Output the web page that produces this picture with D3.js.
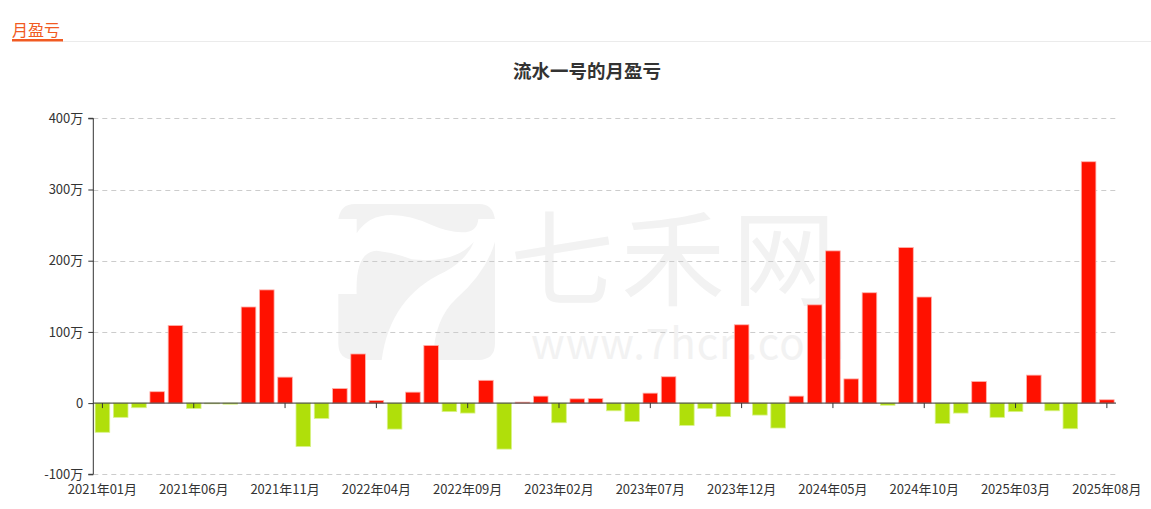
<!DOCTYPE html>
<html><head><meta charset="utf-8">
<script src="https://cdn.jsdelivr.net/npm/d3@7/dist/d3.min.js"></script>
<style>
body{margin:0;background:#fff;font-family:"Noto Sans CJK SC","Noto Sans",sans-serif;}
svg text{font-family:"Noto Sans CJK SC","Noto Sans",sans-serif;}
</style></head>
<body>
<svg id="c" width="1151" height="509"></svg>
<script>
const startYear = 2021, startMonth = 1;
const months = [];
for (let i = 0; i < 56; i++) {
  const y = startYear + Math.floor((startMonth - 1 + i) / 12);
  const m = (startMonth - 1 + i) % 12 + 1;
  months.push(y + "年" + String(m).padStart(2, "0") + "月");
}
// monthly profit/loss in 万
const values = [
  -41, -20, -6.5, 16, 109, -7.5, -1, -1.5, 135, 159,
  36.5, -61, -21.5, 20.5, 69, 3.7, -36.5, 15.4, 81, -12,
  -14, 32, -64.6, 1.4, 9.8, -27.6, 6, 6.5, -10.8, -25.7,
  14, 37, -31.3, -7.5, -19, 110, -16.8, -35, 9.8, 138,
  213.8, 34, 155, -3, 218.5, 149, -28.5, -14, 30.4, -20,
  -12, 39.3, -10.8, -36, 339, 4.7
];
const yTicks = [-100, 0, 100, 200, 300, 400];
const tickEvery = 5;

const svg = d3.select("#c");
const margin = {left: 93.3, right: 1116, top: 118.3, bottom: 474.3};

const x = d3.scaleBand().domain(months).range([margin.left, margin.right]).paddingInner(0.2).paddingOuter(0.1);
const xs = d3.scaleBand().domain(months).range([margin.left, margin.right]);
const y = d3.scaleLinear().domain([-100, 400]).range([margin.bottom, margin.top]);

// header
svg.append("text").attr("x", 12).attr("y", 36).attr("fill", "#f15a22")
  .attr("font-size", 16).text("月盈亏");
svg.append("line").attr("x1", 62).attr("x2", 1151).attr("y1", 41.5).attr("y2", 41.5)
  .attr("stroke", "#ebebeb").attr("stroke-width", 1);
svg.append("rect").attr("x", 12).attr("y", 39).attr("width", 51).attr("height", 2.5).attr("fill", "#f15a22");

// watermark
const wm = svg.append("g").attr("fill", "#f2f2f2");
const logo = wm.append("g").attr("transform", "translate(320,190) scale(0.3333)");
logo.append("path").attr("d", "M55,87 Q62,42 105,42 L478,42 Q518,42 525,87 L475,87 Q472,128 425,127 Q385,127 335,105 Q270,75 215,75 Q145,75 110,130 L110,87 Z");
logo.append("path").attr("d", "M55,312 L110,312 Q105,185 170,182 Q225,188 275,208 Q405,222 462,155 Q440,210 375,245 Q210,320 185,510 L105,510 Q55,510 55,460 Z");
logo.append("path").attr("d", "M525,155 L525,460 Q525,510 475,510 L340,510 Q340,390 410,325 Q500,245 525,155 Z");
wm.append("text").attr("x", 510).attr("y", 298)
  .attr("font-size", 104).attr("font-weight", 400)
  .attr("letter-spacing", 7).text("七禾网");
wm.append("text").attr("x", 531).attr("y", 359).attr("font-size", 42)
  .attr("font-family", "'Open Sans','DejaVu Sans',sans-serif").attr("font-weight", 400)
  .attr("letter-spacing", 1).text("www.7hcn.com");

// title
svg.append("text").attr("x", 587).attr("y", 78).attr("text-anchor", "middle")
  .attr("font-size", 18.5).attr("font-weight", "bold").attr("fill", "#333").text("流水一号的月盈亏");

// grid
svg.append("g").selectAll("line").data(yTicks.filter(d => d !== 0)).join("line")
  .attr("x1", margin.left).attr("x2", margin.right)
  .attr("y1", d => Math.round(y(d)) + 0.5).attr("y2", d => Math.round(y(d)) + 0.5)
  .attr("stroke", "#cccccc").attr("stroke-dasharray", "5,4");

// bars
svg.append("g").selectAll("rect").data(values).join("rect")
  .attr("x", (d, i) => x(months[i]))
  .attr("width", x.bandwidth())
  .attr("y", d => y(Math.max(0, d)))
  .attr("height", d => Math.abs(y(d) - y(0)))
  .attr("fill", d => d >= 0 ? "#ff1100" : "#b0df0a")
  .attr("stroke", d => d >= 0 ? "#ffb3ad" : "#d9f28a")
  .attr("stroke-width", 0.8);

// y axis
const yAxis = d3.axisLeft(y).tickValues(yTicks).tickSize(5).tickPadding(5)
  .tickFormat(d => d === 0 ? "0" : d + "万");
const ga = svg.append("g").attr("transform", `translate(${margin.left},0)`).call(yAxis);
ga.select(".domain").attr("stroke", "#333").attr("d", `M-5,${margin.top}H0V${margin.bottom}H-5`);
ga.selectAll(".tick line").attr("stroke", "#333");
ga.selectAll("text").attr("fill", "#333").attr("font-size", 13)
  .attr("font-family", "'Noto Sans CJK SC',sans-serif");

// x axis line at zero
const zeroY = y(0);
svg.append("line").attr("x1", margin.left).attr("x2", margin.right)
  .attr("y1", zeroY).attr("y2", zeroY).attr("stroke", "#333").attr("stroke-width", 1);
const tickMonths = months.filter((m, i) => i % tickEvery === 0);
svg.append("g").selectAll("line").data(tickMonths).join("line")
  .attr("x1", m => xs(m) + xs.bandwidth() / 2).attr("x2", m => xs(m) + xs.bandwidth() / 2)
  .attr("y1", zeroY).attr("y2", zeroY + 5).attr("stroke", "#333");
svg.append("g").selectAll("text").data(tickMonths).join("text")
  .attr("x", m => xs(m) + xs.bandwidth() / 2).attr("y", 494)
  .attr("text-anchor", "middle").attr("font-size", 13).attr("fill", "#333").text(m => m);
</script>
</body></html>
